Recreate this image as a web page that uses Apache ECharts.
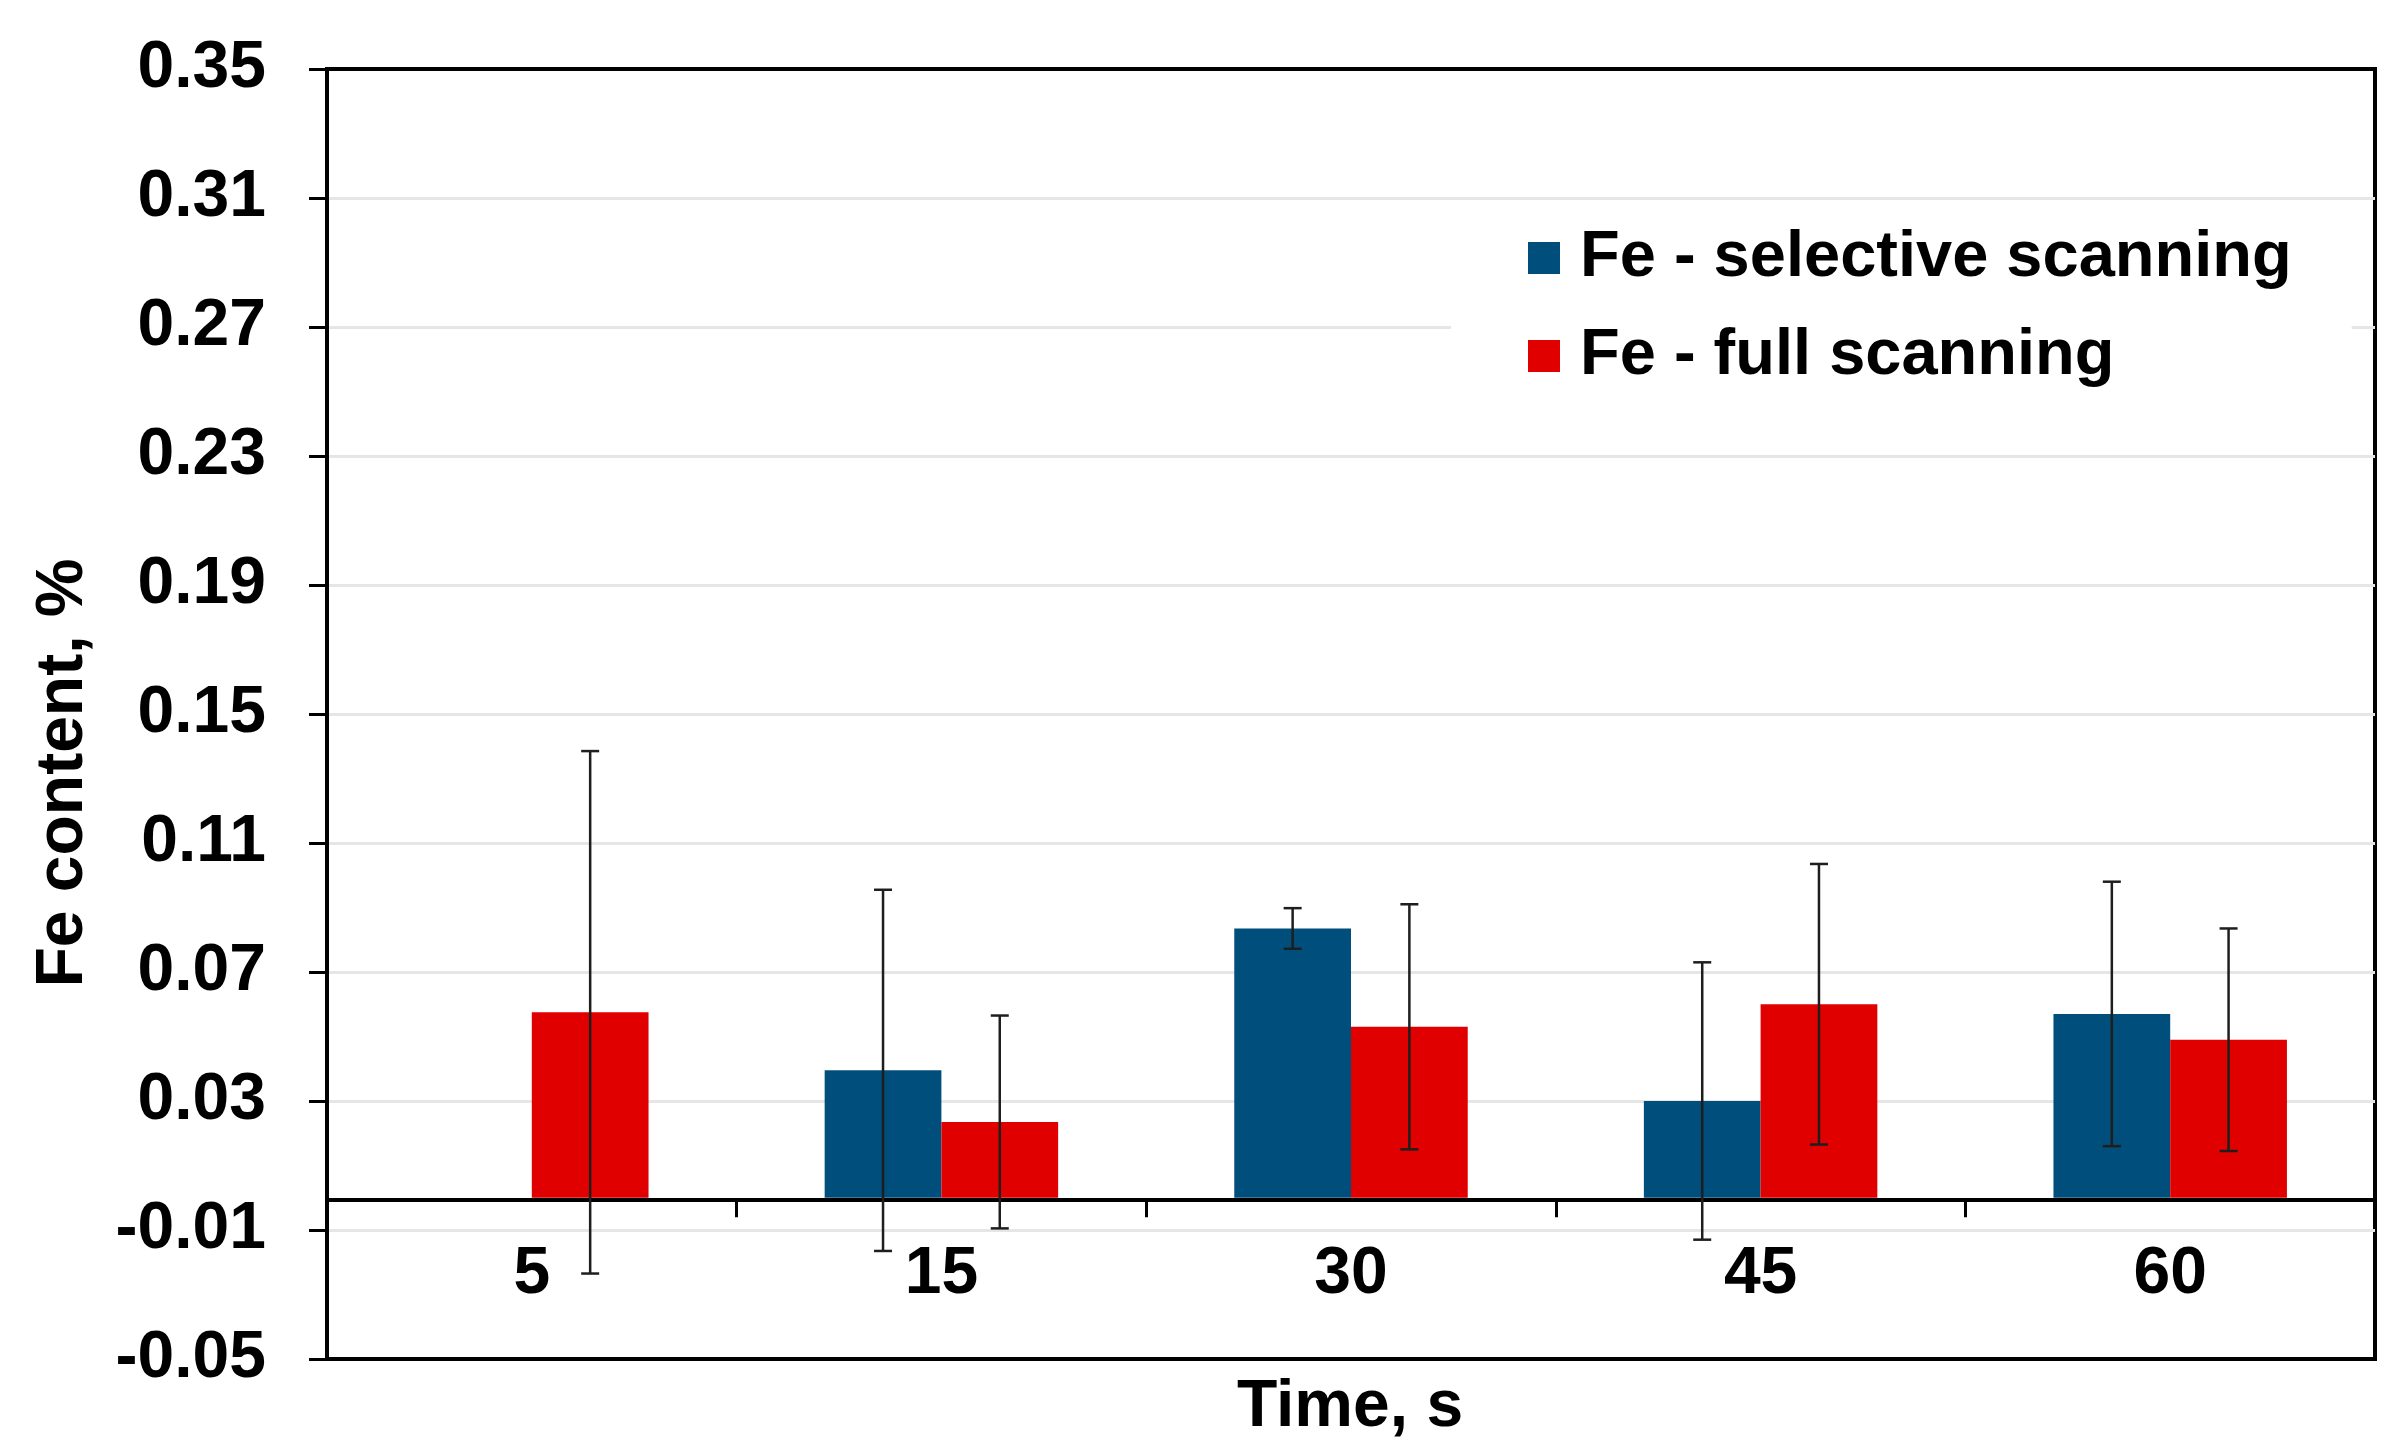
<!DOCTYPE html>
<html><head><meta charset="utf-8">
<script src="https://cdn.jsdelivr.net/npm/echarts@6/dist/echarts.min.js"></script>
<style>html,body{margin:0;padding:0;background:#fff;} #c{width:2407px;height:1456px;}</style>
</head><body><div id="c"></div>
<script>
const categories = ['5', '15', '30', '45', '60'];
const selectiveMean = [null, 0.0395, 0.0835, 0.030, 0.057];
const selectiveErr  = [null, 0.056, 0.0063, 0.043, 0.041];
const fullMean = [0.0575, 0.0235, 0.053, 0.060, 0.049];
const fullErr  = [0.081, 0.033, 0.038, 0.0435, 0.0345];
const yTicks = [-0.05, -0.01, 0.03, 0.07, 0.11, 0.15, 0.19, 0.23, 0.27, 0.31, 0.35];
const seriesNames = ['Fe - selective scanning', 'Fe - full scanning'];
const yTitle = 'Fe content, %';
const xTitle = 'Time, s';

const FONT = '"Liberation Sans", Arial, sans-serif';
const CAT_GAP = 0.43;

function errData(mean, err) {
  const out = [];
  mean.forEach((m, i) => { if (m != null && err[i] != null) out.push([i, m - err[i], m + err[i]]); });
  return out;
}
function makeRender(side) {
  return function (params, api) {
    const i = api.value(0);
    const lo = api.coord([i, api.value(1)]);
    const hi = api.coord([i, api.value(2)]);
    const cw = api.size([1, 0])[0];
    const bw = cw * (1 - CAT_GAP) / 2;
    const x = lo[0] + side * bw / 2;
    const cap = 9;
    const st = { stroke: '#1e1e1e', lineWidth: 2.5 };
    return { type: 'group', children: [
      { type: 'line', shape: { x1: x, y1: hi[1], x2: x, y2: lo[1] }, style: st },
      { type: 'line', shape: { x1: x - cap, y1: hi[1], x2: x + cap, y2: hi[1] }, style: st },
      { type: 'line', shape: { x1: x - cap, y1: lo[1], x2: x + cap, y2: lo[1] }, style: st }
    ]};
  };
}

const chart = echarts.init(document.getElementById('c'), null, { renderer: 'canvas' });
chart.setOption({
  animation: false,
  backgroundColor: '#fff',
  grid: { left: 327, right: 32, top: 69, bottom: 97, show: true, borderColor: '#000', borderWidth: 4, backgroundColor: 'transparent' },
  legend: {
    data: seriesNames, orient: 'vertical', left: 1451, top: 214,
    padding: [8, 60, 14, 77], itemWidth: 32, itemHeight: 32, itemGap: 26, icon: 'rect',
    backgroundColor: '#fff',
    textStyle: { fontSize: 65, fontWeight: 'bold', fontFamily: FONT, color: '#000', lineHeight: 72, padding: [0, 0, 0, 15] }
  },
  xAxis: {
    type: 'category', data: categories, position: 'bottom', offset: 0,
    axisLine: { onZero: false, lineStyle: { color: '#000', width: 4 } },
    axisTick: { show: true, length: 18, lineStyle: { color: '#000', width: 3 } },
    axisLabel: { margin: 43, fontSize: 66, fontWeight: 'bold', fontFamily: FONT, color: '#000' },
    splitLine: { show: false }
  },
  yAxis: {
    type: 'value', min: -0.05, max: 0.35,
    axisLine: { show: true, lineStyle: { color: '#000', width: 4 } },
    axisTick: { show: true, length: 18, customValues: yTicks, lineStyle: { color: '#000', width: 3 } },
    axisLabel: { customValues: yTicks, margin: 61, fontSize: 66, fontWeight: 'bold', fontFamily: FONT, color: '#000',
      formatter: v => Number(v).toFixed(2) },
    splitLine: { show: true, showMinLine: false, showMaxLine: false, lineStyle: { color: '#e6e6e6', width: 3 } }
  },
  graphic: [
    { type: 'text', x: 64, y: 773, rotation: Math.PI / 2,
      style: { text: yTitle, font: 'bold 66px ' + FONT, fill: '#000', align: 'center', verticalAlign: 'middle' } },
    { type: 'text', x: 1350, y: 1408,
      style: { text: xTitle, font: 'bold 66px ' + FONT, fill: '#000', align: 'center', verticalAlign: 'middle' } }
  ],
  series: [
    { name: seriesNames[0], type: 'bar', data: selectiveMean, barGap: '0%', barCategoryGap: (CAT_GAP * 100) + '%',
      itemStyle: { color: '#004E7C' } },
    { name: seriesNames[1], type: 'bar', data: fullMean, barGap: '0%', barCategoryGap: (CAT_GAP * 100) + '%',
      itemStyle: { color: '#E00000' } },
    { name: 'err-sel', type: 'custom', data: errData(selectiveMean, selectiveErr), renderItem: makeRender(-1),
      encode: { x: 0, y: [1, 2] }, z: 10, silent: true },
    { name: 'err-full', type: 'custom', data: errData(fullMean, fullErr), renderItem: makeRender(1),
      encode: { x: 0, y: [1, 2] }, z: 10, silent: true }
  ]
});
// place the category axis (line, ticks, labels) on the y = 0 value, using the value scale
const zeroY = chart.convertToPixel({ yAxisIndex: 0 }, 0);
const minY = chart.convertToPixel({ yAxisIndex: 0 }, -0.05);
chart.setOption({ xAxis: { offset: -(minY - zeroY) } });
</script>
</body></html>
